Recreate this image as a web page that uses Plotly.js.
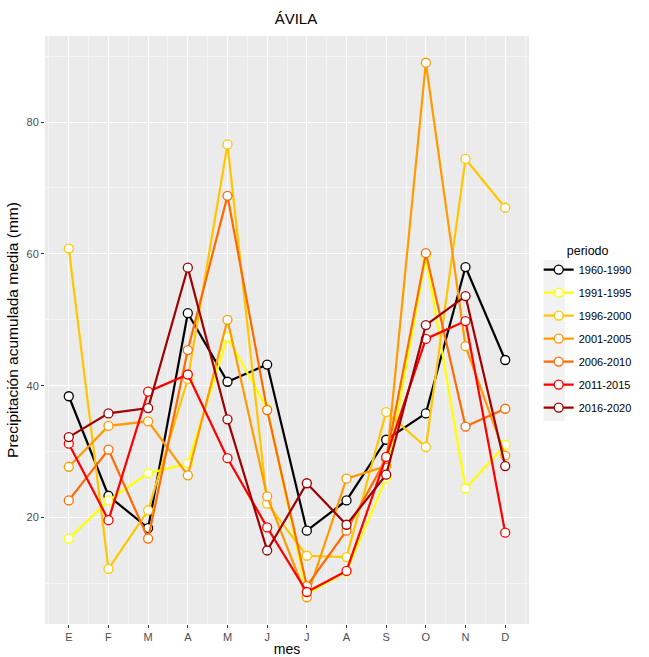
<!DOCTYPE html>
<html>
<head>
<meta charset="utf-8">
<script src="https://cdn.plot.ly/plotly-3.0.1.min.js"></script>
<style>
html,body{margin:0;padding:0;background:#fff;}
#chart{width:649px;height:657px;}
</style>
</head>
<body>
<div id="chart"></div>
<script>
// Month labels (Spanish initials)
const months = ['E','F','M','A','M','J','J','A','S','O','N','D'];
// Periods (legend labels)
const periods = ['1960-1990','1991-1995','1996-2000','2001-2005','2006-2010','2011-2015','2016-2020'];
// Mean accumulated precipitation (mm) per month
const p1960_1990 = [38.4, 23.3, 18.4, 51.0, 40.6, 43.2, 18.0, 22.6, 31.8, 35.8, 58.0, 43.9];
const p1991_1995 = [16.8, 22.6, 26.7, 28.2, 47.4, 36.5, 8.4, 11.8, 26.0, 59.6, 24.4, 31.0];
const p1996_2000 = [60.8, 12.2, 21.1, 41.0, 76.6, 22.1, 14.2, 14.0, 36.0, 30.7, 74.4, 67.0];
const p2001_2005 = [27.7, 33.9, 34.6, 26.4, 50.0, 23.2, 7.9, 25.9, 27.8, 89.0, 46.0, 29.4];
const p2006_2010 = [22.6, 30.3, 16.8, 45.4, 68.8, 36.3, 9.6, 18.0, 28.9, 60.1, 33.8, 36.5];
const p2011_2015 = [31.2, 19.6, 39.1, 41.7, 29.0, 18.5, 8.7, 11.9, 29.2, 47.1, 49.8, 17.7];
const p2016_2020 = [32.2, 35.8, 36.6, 57.9, 34.9, 15.0, 25.2, 18.9, 26.5, 49.2, 53.6, 27.8];
const yTicks = [20, 40, 60, 80];

const series = [p1960_1990, p1991_1995, p1996_2000, p2001_2005, p2006_2010, p2011_2015, p2016_2020];
const colors = ['#000000', '#FFFF00', '#FFC600', '#FF9A00', '#FF6A00', '#FF0000', '#A00000'];

const xIdx = months.map((m, i) => i + 1);
const FONT = 'Liberation Sans, Arial, sans-serif';

const traces = series.map((vals, k) => ({
  type: 'scatter',
  mode: 'lines+markers',
  name: periods[k],
  legendgroup: periods[k],
  x: xIdx,
  y: vals,
  line: {color: colors[k], width: 2.2},
  marker: {symbol: 'circle', size: 9, color: '#FFFFFF', line: {color: colors[k], width: 1.3}},
  hoverinfo: 'x+y+name'
}));

const all = series.flat();
const ymin = Math.min(...all), ymax = Math.max(...all);
const pad = (ymax - ymin) * 0.05;

const layout = {
  width: 649, height: 657,
  margin: {l: 45, r: 106, t: 36, b: 33},
  paper_bgcolor: '#FFFFFF',
  plot_bgcolor: '#EBEBEB',
  font: {family: FONT, color: '#000000'},
  title: {text: 'ÁVILA', x: 0.456, xanchor: 'center', y: 0.972, yanchor: 'middle', font: {family: FONT, size: 15, color: '#000000'}},
  xaxis: {
    range: [0.4, 12.6],
    tickmode: 'array', tickvals: xIdx, ticktext: months,
    ticks: 'outside', ticklen: 3, tickwidth: 1, tickcolor: '#333333',
    tickfont: {family: FONT, size: 11, color: '#4D4D4D'},
    showgrid: true, gridcolor: '#FFFFFF', gridwidth: 1.1,
    minor: {tickmode: 'array', tickvals: xIdx.map(v => v - 0.5).concat([12.5]), showgrid: true, gridcolor: '#FFFFFF', gridwidth: 0.5, ticks: ''},
    zeroline: false, showline: false,
    title: {text: 'mes', font: {family: FONT, size: 14, color: '#000000'}, standoff: 5}
  },
  yaxis: {
    range: [ymin - pad, ymax + pad],
    tickmode: 'array', tickvals: yTicks,
    ticks: 'outside', ticklen: 3, tickwidth: 1, tickcolor: '#333333',
    tickfont: {family: FONT, size: 11, color: '#4D4D4D'},
    showgrid: true, gridcolor: '#FFFFFF', gridwidth: 1.1,
    minor: {tickmode: 'array', tickvals: [10, 30, 50, 70, 90], showgrid: true, gridcolor: '#FFFFFF', gridwidth: 0.5, ticks: ''},
    zeroline: false, showline: false,
    title: {text: 'Precipitación acumulada media (mm)', font: {family: FONT, size: 15.5, color: '#000000'}, standoff: 4}
  },
  shapes: [{
    type: 'rect', xref: 'paper', yref: 'paper', layer: 'below',
    x0: 1.030, x1: 1.074, y0: 0.345, y1: 0.619,
    fillcolor: '#F2F2F2', line: {width: 0}
  }],
  showlegend: true,
  legend: {
    x: 1.02, xanchor: 'left', y: 0.655, yanchor: 'top',
    bgcolor: 'rgba(0,0,0,0)',
    font: {family: FONT, size: 11, color: '#000000'},
    title: {text: 'periodo', side: 'top center', font: {family: FONT, size: 12.5, color: '#000000'}},
    tracegroupgap: 4,
    itemwidth: 30
  }
};

Plotly.newPlot('chart', traces, layout, {displayModeBar: false, staticPlot: true});
</script>
</body>
</html>
